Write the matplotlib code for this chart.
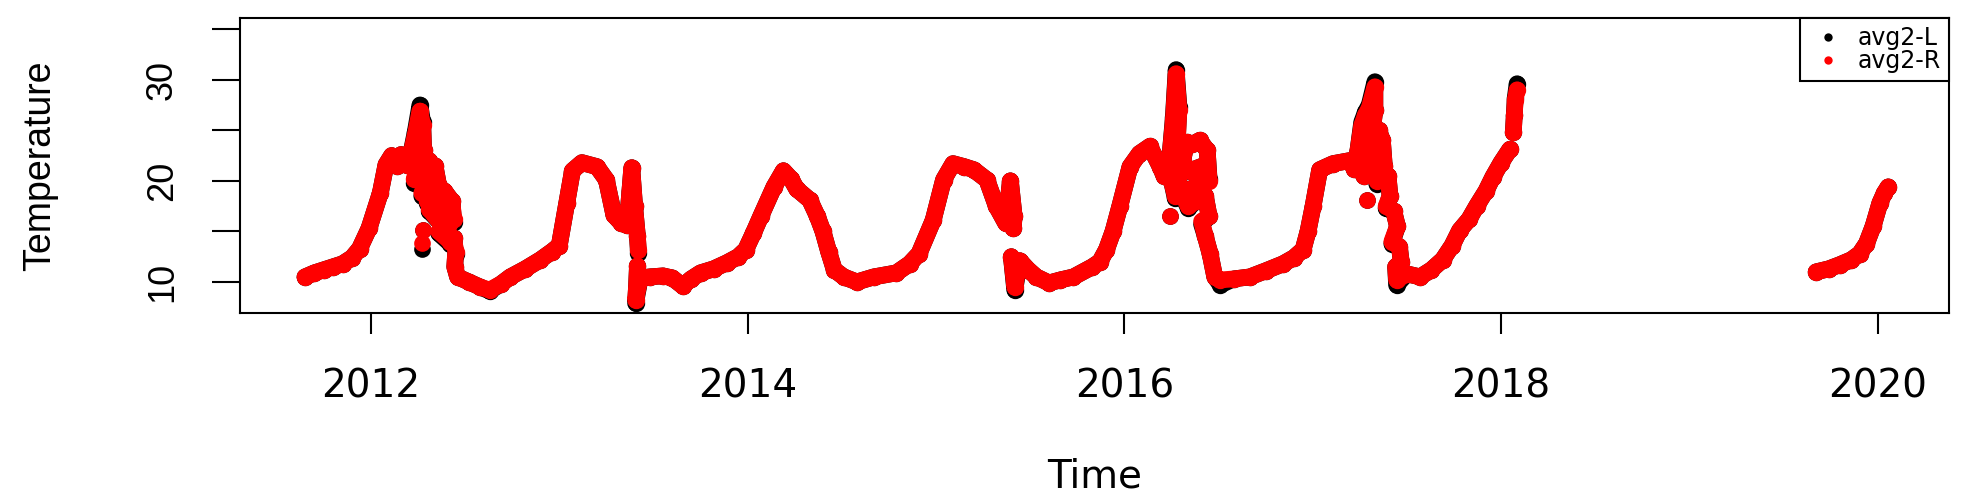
import numpy as np
import matplotlib
matplotlib.use("Agg")
import matplotlib.pyplot as plt
from matplotlib.lines import Line2D

plt.rcParams['font.family'] = ['DejaVu Sans']

# decimal years and temperatures, one list per unbroken stretch
seg1_time = [2011.650, 2011.700, 2011.750, 2011.800, 2011.850, 2011.900, 2011.940, 2011.990, 2012.050, 2012.080,
             2012.110, 2012.140, 2012.160, 2012.190, 2012.210, 2012.235, 2012.260, 2012.275, 2012.280, 2012.230,
             2012.270, 2012.310, 2012.330, 2012.270, 2012.300, 2012.340, 2012.360, 2012.300, 2012.370, 2012.310,
             2012.360, 2012.400, 2012.390, 2012.430, 2012.440, 2012.410, 2012.360, 2012.420, 2012.440, 2012.450,
             2012.445, 2012.460, 2012.520, 2012.580, 2012.630, 2012.690, 2012.740, 2012.820, 2012.900, 2012.960,
             2013.000, 2013.040, 2013.070, 2013.120, 2013.200, 2013.250, 2013.290, 2013.330, 2013.360, 2013.375,
             2013.385, 2013.400, 2013.415, 2013.420]
seg1_R = [10.5, 10.9, 11.2, 11.5, 11.8, 12.4, 13.3, 15.3, 18.8, 21.6,
          22.5, 21.5, 22.6, 21.6, 22.5, 24.5, 26.9, 25.5, 23.0, 20.2,
          21.5, 22.0, 20.5, 18.8, 20.0, 21.5, 19.5, 18.0, 17.5, 17.2,
          16.0, 17.5, 19.0, 18.0, 16.2, 15.5, 15.0, 14.0, 14.3, 13.0,
          11.5, 10.5, 10.0, 9.5, 9.2, 9.8, 10.5, 11.3, 12.2, 13.0,
          13.6, 17.8, 21.0, 21.8, 21.4, 20.1, 16.6, 15.8, 15.6, 19.0,
          21.3, 17.5, 14.5, 13.2]
seg1_L = [10.5, 10.9, 11.2, 11.5, 11.8, 12.4, 13.3, 15.3, 18.8, 21.6,
          22.5, 21.5, 22.6, 21.6, 22.5, 24.8, 27.5, 25.8, 23.0, 19.8,
          21.5, 22.0, 20.5, 18.5, 20.0, 21.5, 19.5, 17.8, 17.5, 17.0,
          16.0, 17.5, 19.0, 18.0, 15.9, 15.2, 14.8, 13.8, 14.3, 12.8,
          11.5, 10.5, 10.0, 9.5, 9.1, 9.8, 10.5, 11.3, 12.2, 13.0,
          13.6, 17.8, 21.0, 21.8, 21.4, 20.1, 16.6, 15.8, 15.6, 19.0,
          21.3, 17.5, 14.5, 12.9]

seg2_time = [2013.415, 2013.410, 2013.405, 2013.430, 2013.480, 2013.550, 2013.600, 2013.655, 2013.700, 2013.750,
             2013.820, 2013.890, 2013.950, 2013.990, 2014.030, 2014.070, 2014.140, 2014.190, 2014.230, 2014.260,
             2014.330, 2014.370, 2014.400, 2014.430, 2014.460, 2014.510, 2014.580, 2014.670, 2014.790, 2014.860,
             2014.910, 2014.985, 2015.040, 2015.090, 2015.150, 2015.200, 2015.270, 2015.320, 2015.370, 2015.395,
             2015.415, 2015.410]
seg2_R = [11.6, 9.5, 8.2, 10.4, 10.5, 10.6, 10.4, 9.6, 10.3, 10.9,
          11.3, 11.9, 12.5, 13.2, 14.8, 16.5, 19.4, 21.0, 20.2, 19.2,
          18.1, 16.5, 15.0, 13.0, 11.2, 10.5, 10.0, 10.5, 10.9, 11.8,
          12.8, 16.1, 20.1, 21.7, 21.4, 21.1, 20.1, 17.5, 15.8, 20.0,
          16.5, 15.3]
seg2_L = [11.6, 9.5, 7.9, 10.4, 10.5, 10.6, 10.4, 9.6, 10.3, 10.9,
          11.3, 11.9, 12.5, 13.2, 14.8, 16.5, 19.4, 21.0, 20.2, 19.2,
          18.1, 16.5, 15.0, 13.0, 11.2, 10.5, 10.0, 10.5, 10.9, 11.8,
          12.8, 16.1, 20.1, 21.7, 21.4, 21.1, 20.1, 17.5, 15.8, 20.0,
          16.5, 15.3]

seg3_time = [2015.400, 2015.418, 2015.445, 2015.490, 2015.533, 2015.600, 2015.660, 2015.730, 2015.830, 2015.870,
             2015.905, 2015.940, 2015.976, 2016.030, 2016.080, 2016.135, 2016.190, 2016.210, 2016.240, 2016.260,
             2016.275, 2016.290, 2016.280, 2016.250, 2016.270, 2016.310, 2016.330, 2016.360, 2016.400, 2016.440,
             2016.450, 2016.350, 2016.420, 2016.390, 2016.300, 2016.340, 2016.380, 2016.430, 2016.450, 2016.410,
             2016.430, 2016.455, 2016.480, 2016.510, 2016.580, 2016.666, 2016.750, 2016.843, 2016.900, 2016.949,
             2016.975, 2017.002, 2017.037, 2017.108, 2017.196, 2017.220, 2017.240, 2017.260, 2017.280, 2017.300,
             2017.330, 2017.330, 2017.310, 2017.290, 2017.270, 2017.320, 2017.350, 2017.370, 2017.380, 2017.340,
             2017.400, 2017.410, 2017.390, 2017.430, 2017.450, 2017.420, 2017.460, 2017.470, 2017.440, 2017.445,
             2017.500, 2017.570, 2017.630, 2017.690, 2017.740, 2017.780, 2017.830, 2017.870, 2017.920, 2017.957,
             2018.000, 2018.046]
seg3_R = [12.5, 9.5, 12.1, 11.2, 10.5, 9.9, 10.2, 10.5, 11.5, 12.0,
          13.2, 15.0, 17.5, 21.4, 22.7, 23.4, 21.4, 20.5, 22.0, 26.0,
          30.6, 27.0, 23.5, 20.0, 18.5, 22.0, 23.8, 23.6, 24.0, 23.0,
          20.0, 21.0, 21.5, 19.5, 18.8, 17.5, 18.0, 18.5, 16.5, 16.0,
          14.5, 12.8, 10.5, 10.2, 10.3, 10.5, 11.1, 11.8, 12.4, 13.2,
          15.0, 17.5, 21.1, 21.7, 22.0, 21.2, 23.0, 25.5, 26.5, 27.2,
          29.3, 27.0, 24.0, 21.5, 20.5, 22.5, 25.0, 24.0, 21.5, 20.0,
          20.5, 18.5, 17.5, 17.0, 15.5, 14.0, 13.5, 12.0, 11.5, 10.2,
          10.8, 10.5, 11.2, 12.2, 13.6, 15.1, 16.2, 17.5, 19.0, 20.4,
          21.8, 23.1]
seg3_L = [12.5, 9.2, 12.1, 11.2, 10.5, 9.9, 10.2, 10.5, 11.5, 12.0,
          13.2, 15.0, 17.5, 21.4, 22.7, 23.4, 21.4, 20.5, 22.0, 26.3,
          31.0, 27.3, 23.5, 20.0, 18.3, 22.0, 23.8, 23.6, 24.0, 23.0,
          20.2, 21.0, 21.5, 19.5, 18.8, 17.3, 18.0, 18.5, 16.5, 15.7,
          14.5, 12.8, 10.5, 9.7, 10.3, 10.5, 11.1, 11.8, 12.4, 13.2,
          15.0, 17.5, 21.1, 21.7, 22.0, 21.2, 23.0, 25.8, 26.8, 27.5,
          29.8, 27.0, 24.0, 21.5, 20.5, 22.5, 25.0, 24.0, 21.5, 19.7,
          20.5, 18.5, 17.3, 17.0, 15.5, 13.8, 13.5, 12.0, 11.5, 9.7,
          10.8, 10.5, 11.2, 12.2, 13.6, 15.1, 16.2, 17.5, 19.0, 20.4,
          21.8, 23.1]

seg4_time = [2018.065, 2018.070, 2018.075, 2018.085]
seg4_R = [24.8, 26.5, 28.0, 29.0]
seg4_L = [24.8, 26.5, 28.2, 29.6]

seg5_time = [2019.673, 2019.740, 2019.797, 2019.860, 2019.904, 2019.940, 2019.975, 2020.011, 2020.035, 2020.055]
seg5_R = [11.0, 11.3, 11.7, 12.2, 12.8, 13.8, 15.5, 17.8, 18.8, 19.4]
seg5_L = [11.0, 11.3, 11.7, 12.2, 12.8, 13.8, 15.5, 17.8, 18.8, 19.4]

# stray single readings
dots_time = [2012.278, 2012.272, 2016.240, 2017.290]
dots_R = [15.1, 13.9, 16.5, 18.1]
dots_L = [15.1, 13.3, 16.5, 18.1]

x_ticks = [2012, 2014, 2016, 2018, 2020]
y_ticks = [10, 15, 20, 25, 30, 35]
y_labels = ['10', '', '20', '', '30', '']


def join(parts):
    out = []
    for p in parts:
        out += list(p) + [np.nan]
    return np.array(out)


t = join([seg1_time, seg2_time, seg3_time, seg4_time, seg5_time])
avg_l = join([seg1_L, seg2_L, seg3_L, seg4_L, seg5_L])
avg_r = join([seg1_R, seg2_R, seg3_R, seg4_R, seg5_R])

fig = plt.figure(figsize=(19.7, 5.04), dpi=100)
ax = fig.add_axes([240 / 1970, 1 - 313 / 504, 1709 / 1970, 295 / 504])

for vals, dots, col in ((avg_l, dots_L, 'black'), (avg_r, dots_R, 'red')):
    ax.plot(t, vals, color=col, lw=12, solid_capstyle='round', solid_joinstyle='round',
            marker='o', ms=12.5, mew=0)
    ax.plot(dots_time, dots, 'o', color=col, ms=12, mew=0)

ax.set_xlim(2011.305, 2020.378)
ax.set_ylim(6.93, 36.1)

for s in ax.spines.values():
    s.set_linewidth(1.5)
    s.set_color('black')

ax.set_xticks(x_ticks, labels=[str(x) for x in x_ticks])
ax.set_yticks(y_ticks, labels=y_labels)
ax.tick_params(axis='x', length=15, width=1.5, pad=24, labelsize=28)
ax.tick_params(axis='y', length=20, width=1.5, pad=23.3, labelsize=26, labelrotation=90)
for lab in ax.get_yticklabels():
    lab.set_family('Liberation Sans')
    lab.set_va('center')

ax.set_xlabel('Time', fontsize=28)
ax.xaxis.set_label_coords(0.5, -0.4915)
ax.set_ylabel('Temperature', fontsize=27, family='Liberation Sans')
ax.yaxis.set_label_coords(-0.1065, 0.5)

handles = [Line2D([], [], ls='none', marker='o', color='black', ms=6, mew=0),
           Line2D([], [], ls='none', marker='o', color='red', ms=6, mew=0)]
leg = ax.legend(handles, ['avg2-L', 'avg2-R'], loc='upper right', fontsize=17,
                frameon=True, fancybox=False, edgecolor='black', framealpha=1,
                borderaxespad=0, borderpad=0.35, labelspacing=-0.05,
                handlelength=1.7, handletextpad=0.4)
leg.get_frame().set_linewidth(1.5)

fig.savefig('out.png', dpi=100)
